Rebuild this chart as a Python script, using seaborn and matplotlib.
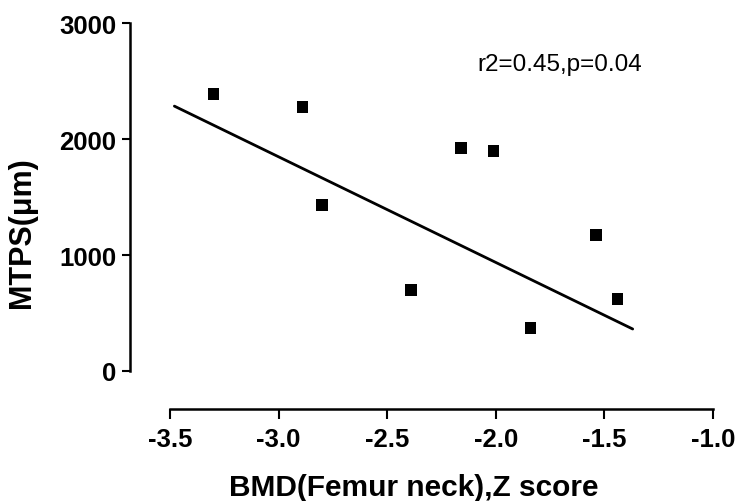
import matplotlib
matplotlib.use("Agg")
import matplotlib.pyplot as plt
import numpy as np
import pandas as pd
import seaborn as sns

# points
bmd_z = [-3.30, -2.89, -2.80, -2.39, -2.16, -2.01, -1.84, -1.54, -1.44]
mtps = [2390, 2276, 1431, 698, 1922, 1897, 371, 1172, 621]

# fitted line as drawn in the figure (end points)
fit_x = [-3.48, -1.37]
fit_y = [2284, 362]

x_ticks = [-3.5, -3.0, -2.5, -2.0, -1.5, -1.0]
y_ticks = [0, 1000, 2000, 3000]

dados = pd.DataFrame({'BMD': bmd_z, 'MTPS': mtps})
linha = pd.DataFrame({'BMD': fit_x, 'MTPS': fit_y})

sns.set_style('ticks')
plt.rcParams['font.family'] = ['Liberation Sans', 'DejaVu Sans']
plt.rcParams['axes.unicode_minus'] = False
plt.rcParams['text.color'] = 'black'
plt.rcParams['axes.labelcolor'] = 'black'

fig = plt.figure(figsize=(7.38, 5.02), dpi=100)
ax = fig.add_axes([0.2304, 0.259, 0.7358, 0.693])

sns.lineplot(data=linha, x='BMD', y='MTPS', color='black', linewidth=2.0, ax=ax)
sns.scatterplot(data=dados, x='BMD', y='MTPS', marker='s', color='black',
                s=70, edgecolor='none', ax=ax, zorder=3)

ax.set_xlim(-3.5, -1.0)
ax.set_ylim(0, 3000)
ax.set_xticks(x_ticks)
ax.set_xticklabels([f'{v:.1f}' for v in x_ticks])
ax.set_yticks(y_ticks)
ax.set_yticklabels([str(v) for v in y_ticks])

sns.despine(ax=ax)
ax.spines['left'].set_position(('outward', 28.8))
ax.spines['bottom'].set_position(('outward', 27.4))
for s in ['left', 'bottom']:
    ax.spines[s].set_linewidth(1.8)
    ax.spines[s].set_color('black')

ax.tick_params(axis='y', length=5.8, width=1.5, pad=4, labelsize=18.5, colors='black')
ax.tick_params(axis='x', length=7, width=1.5, pad=6, labelsize=18.5, colors='black')
for lab in ax.get_xticklabels() + ax.get_yticklabels():
    lab.set_fontweight('bold')

ax.set_xlabel('BMD(Femur neck),Z score', fontsize=21.5, fontweight='bold')
ax.xaxis.label.set_va('center')
ax.xaxis.set_label_coords(0.449, -0.333)
ax.set_ylabel('MTPS(μm)', fontsize=22, fontweight='bold')
ax.yaxis.label.set_va('center')
ax.yaxis.set_label_coords(-0.2726, 0.40)

ax.text(-2.085, 2647, 'r2=0.45,p=0.04', fontsize=17.5, va='center', ha='left')

fig.savefig('out.png', dpi=100)
